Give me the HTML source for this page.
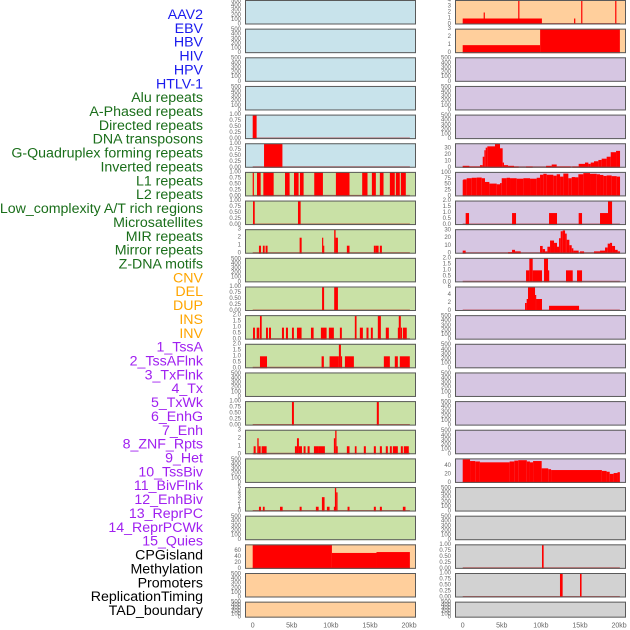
<!DOCTYPE html>
<html><head><meta charset="utf-8">
<style>
html,body{margin:0;padding:0;background:#fff;}
svg{display:block;font-family:"Liberation Sans",sans-serif;}
</style></head>
<body>
<svg id="chart" width="630" height="630" viewBox="0 0 630 630"></svg>
<script>
const trackLabels = ["AAV2","EBV","HBV","HIV","HPV","HTLV-1","Alu repeats","A-Phased repeats","Directed repeats","DNA transposons","G-Quadruplex forming repeats","Inverted repeats","L1 repeats","L2 repeats","Low_complexity A/T rich regions","Microsatellites","MIR repeats","Mirror repeats","Z-DNA motifs","CNV","DEL","DUP","INS","INV","1_TssA","2_TssAFlnk","3_TxFlnk","4_Tx","5_TxWk","6_EnhG","7_Enh","8_ZNF_Rpts","9_Het","10_TssBiv","11_BivFlnk","12_EnhBiv","13_ReprPC","14_ReprPCWk","15_Quies","CPGisland","Methylation","Promoters","ReplicationTiming","TAD_boundary"];
const labelGroups = ["virus","virus","virus","virus","virus","virus","rep","rep","rep","rep","rep","rep","rep","rep","rep","rep","rep","rep","rep","cnv","cnv","cnv","cnv","cnv","chrom","chrom","chrom","chrom","chrom","chrom","chrom","chrom","chrom","chrom","chrom","chrom","chrom","chrom","chrom","other","other","other","other","other"];
const panelGroups = ["virus","virus","virus","virus","virus","virus","rep","rep","rep","rep","rep","rep","rep","rep","rep","rep","rep","rep","rep","cnv","cnv","cnv","cnv","cnv","chrom","chrom","chrom","chrom","chrom","chrom","chrom","chrom","chrom","chrom","chrom","chrom","chrom","chrom","chrom","other","other","other","other","other"];
const E = null;
const yMax = [520,520,520,520,1,1,1,1,3,520,1,2,2,520,1,3,520,5,520,80,520,520, 4,3,520,520,520,37,103,2,31,2,6,520,520,520,520,520,56,520,520,1,1,520];
const tickSets = {
  e:[0,100,200,300,400,500], p1:[0,0.25,0.5,0.75,1], h2:[0,0.5,1,1.5,2], i3:[0,1,2,3], i4:[0,1,2,3,4], i5:[0,1,2,3,4,5],
  cnv:[0,20,40,60], tx:[0,10,20,30], wk:[0,25,50,75,100], het:[0,2,4,6], q:[0,20,40]
};
const tickKeys = ["e","e","e","e","p1","p1","p1","p1","i3","e","p1","h2","h2","e","p1","i3","e","i5","e","cnv","e","e","i4","i3","e","e","e","tx","wk","h2","tx","h2","het","e","e","e","e","e","q","e","e","p1","p1","e"];
const tickDecimals = {p1:2,h2:1};
const hpvSegs = [[0,0.5,1]];
const htlvSegs = [[1.45,3.8,1]];
const aluSegs = [[0,0.12,1],[0.55,1.02,1],[1.36,2.68,1],[4.13,4.72,1],[5.28,5.87,1],[6.04,6.51,1],[7.87,8.98,1],[10.64,12.38,1],[14.0,14.68,1],[15.24,15.75,1],[16.26,16.73,1],[17.54,18.17,1],[18.3,18.81,1],[18.94,19.58,1]];
const aphasedSegs = [[0.04,0.26,1],[5.79,6.13,1]];
const directedSegs = [[0.8,1.06,1],[1.3,1.53,1],[1.65,1.9,1],[6.0,6.26,2],[8.87,9.0,2],[9.0,9.13,1],[10.42,10.6,3],[10.6,10.9,2],[12.04,12.38,1],[15.49,15.75,1],[15.75,16.1,1],[16.26,16.52,1]];
const gquadSegs = [[8.87,9.13,1],[10.42,10.9,1]];
const invertedSegs = [[0.04,0.29,1],[0.51,0.85,1],[0.93,1.15,2],[1.7,1.95,1],[2.08,2.34,1],[3.74,4.0,1],[4.25,4.51,1],[5.02,5.27,1],[5.66,6.25,1],[7.45,7.79,1],[8.72,9.45,1],[9.74,10.38,1],[11.15,11.4,1],[13.06,13.28,2],[13.7,14.09,1],[14.55,14.81,1],[15.11,15.36,1],[16.0,16.39,2],[17.02,17.41,1],[18.56,18.68,1],[18.68,18.94,2],[18.94,19.07,1],[19.2,19.7,1]];
const l1Segs = [[0.93,1.83,1],[8.81,9.1,1],[9.83,11.02,1],[11.02,11.28,2],[11.28,11.4,1],[11.79,12.94,1],[16.77,17.54,1],[18.17,18.56,1],[18.81,20.09,1]];
const lowcompSegs = [[5.02,5.27,1],[15.87,16.13,1]];
const microSegs = [[0.12,0.38,1],[0.59,0.76,2],[0.76,1.02,1],[1.14,1.78,1],[5.4,5.66,1],[5.66,5.91,2],[5.91,6.3,1],[6.51,6.76,1],[7.02,7.28,1],[7.83,8.47,1],[8.47,9.23,1],[10.38,10.55,2],[10.55,10.72,3],[10.72,10.85,1],[12.04,12.38,1],[13.06,13.28,1],[14.21,14.47,1],[15.49,15.75,1],[16.26,16.52,1],[17.02,17.28,1],[17.54,17.79,1],[17.92,18.56,1],[18.94,19.2,1],[19.32,19.96,1]];
const mirrorSegs = [[0.8,1.06,1],[1.3,1.53,1],[3.49,3.83,1],[6.0,6.26,1],[8.08,8.43,1],[8.85,9.19,3],[9.49,9.83,1],[10.38,10.51,1],[10.51,10.68,5],[10.68,10.85,4],[12.13,12.38,1],[15.49,15.75,1],[16.26,16.52,1],[19.2,19.54,1]];
const cnvSegs = [[0,10.13,80],[10.13,15.83,53],[15.83,20.1,56]];
const insSegs = [[0,10.13,1],[2.68,2.8,2],[7.1,7.25,4],[14.24,14.4,1],[15.15,15.3,4],[19.5,19.65,4]];
const invSegs = [[0,9.9,1],[9.9,20.1,3]];
const txSegs = [[0,0.85,3],[0.85,2.21,2],[2.21,2.56,4],[2.56,2.77,17],[2.77,2.94,27],[2.94,3.15,31],[3.15,4.13,33],[4.13,4.77,37],[4.77,5.11,30],[5.11,5.28,8],[5.28,5.8,4],[5.8,6.56,3],[6.56,7.16,2],[8.1,8.95,2],[10.66,11.38,3],[11.38,12.02,5],[12.02,13.81,2],[14.02,14.83,2],[14.83,15.64,6],[15.64,16.07,8],[16.07,16.37,6],[16.37,16.79,8],[16.79,17.35,10],[17.35,17.77,12],[17.77,18.41,14],[18.41,18.93,17],[18.93,19.61,24],[19.61,20.12,26]];
const txwkSegs = [[0,0.08,70],[0.08,0.51,73],[0.51,1.15,78],[1.15,1.79,80],[1.79,2.43,81],[2.43,2.85,78],[2.85,3.41,62],[3.41,4.35,55],[4.35,4.77,52],[4.77,4.99,57],[4.99,5.62,78],[5.62,6.05,80],[6.05,6.9,78],[6.9,7.76,76],[7.76,8.61,78],[8.61,9.46,76],[9.46,9.89,80],[9.89,10.31,93],[10.31,10.74,97],[10.74,11.59,93],[11.59,12.02,89],[12.02,12.45,95],[12.45,12.87,85],[12.87,13.51,98],[13.51,13.94,78],[13.94,14.36,83],[14.36,14.79,82],[14.79,15.43,95],[15.43,16.28,100],[16.28,17.14,97],[17.14,17.56,95],[17.56,17.99,92],[17.99,18.41,88],[18.41,19.05,90],[19.05,19.69,87],[19.69,20.12,85]];
const enhgSegs = [[0.38,0.81,1],[6.31,6.82,1],[11.04,12.06,1],[14.83,15.26,1],[17.56,18.58,1],[18.58,19.1,2]];
const enhSegs = [[0,0.38,4],[5.8,6.31,2],[6.31,6.69,5],[6.69,7.42,3],[9.89,10.23,10],[10.23,10.53,6],[10.53,10.83,3],[10.83,11.17,9],[11.17,11.68,17],[11.68,12.06,14],[12.06,12.32,9],[12.32,12.53,20],[12.53,12.79,29],[12.79,13.09,30],[13.09,13.3,26],[13.3,13.64,18],[13.64,13.94,11],[13.94,14.15,7],[14.15,14.83,4],[15.0,15.52,3],[16.79,17.56,3],[17.56,18.2,4],[18.2,18.54,8],[18.54,18.84,13],[18.84,19.1,14],[19.1,19.48,10],[19.48,19.82,5],[19.82,20.12,3]];
const znfSegs = [[8.1,8.52,1],[8.52,8.95,2],[8.95,10.14,1],[10.4,10.91,2],[10.91,11.04,1],[13.21,14.07,1],[14.62,15.26,1]];
const hetSegs = [[7.97,8.18,2],[8.18,8.35,3],[8.35,9.25,6],[9.25,9.38,4],[9.38,10.14,3],[11.04,14.88,1.3]];
const quiesSegs = [[0,0.94,55],[0.94,1.6,51],[1.6,2.2,50],[2.2,6.0,48],[6.0,6.6,50],[6.6,7.1,52],[7.1,8.2,53],[8.2,8.6,50],[8.6,9.0,48],[9.0,10.1,51],[10.1,10.94,34],[10.94,11.3,32],[11.3,17.8,30],[17.8,18.4,28],[18.4,18.8,26],[18.8,19.3,21],[19.3,19.8,23],[19.8,20.1,25]];
const promSegs = [[10.14,10.35,1]];
const repSegs = [[12.44,12.78,1],[15.0,15.2,1]];
const trackSegs = [E,E,E,E,hpvSegs,htlvSegs,aluSegs,aphasedSegs,directedSegs,E,gquadSegs,invertedSegs,l1Segs,E,lowcompSegs,microSegs,E,mirrorSegs,E,cnvSegs,E,E,
  insSegs,invSegs,E,E,E,txSegs,txwkSegs,enhgSegs,enhSegs,znfSegs,hetSegs,E,E,E,E,E,quiesSegs,E,E,promSegs,repSegs,E];
const xTicks = [0,5,10,15,20];
const xTickLabels = ["0","5kb","10kb","15kb","20kb"];
const dataEnd = 20.1;

const svg = document.getElementById('chart');
const NS = 'http://www.w3.org/2000/svg';
function mk(tag, attrs, parent){const e=document.createElementNS(NS,tag);for(const k in attrs)e.setAttribute(k,attrs[k]);(parent||svg).appendChild(e);return e;}
const labelColors = {virus:'#1a1aee',rep:'#1a6e1a',cnv:'#ffa500',chrom:'#a020f0',other:'#000'};
const panelColors = {virus:'#c8e3eb',rep:'#c9e1a6',cnv:'#ffcf9c',chrom:'#d6c6e2',other:'#d2d2d2'};
const colX = [245,455];
const panelW = 171;
const x0off = 7.7, pxPerKb = 7.82;
function xScale(col,kb){return colX[col]+x0off+kb*pxPerKb;}
function rowTop(r){return r*28.65;}
function rowH(r){return r===21?16:24.5;}

trackLabels.forEach((t,i)=>{
  const el = mk('text',{x:203,y:15+i*13.86,'text-anchor':'end','dominant-baseline':'central','font-size':'14.2',fill:labelColors[labelGroups[i]]});
  el.textContent=t;
  
  
});

for(let ti=0;ti<44;ti++){
  const col = ti<22?0:1, r = ti%22;
  const top=rowTop(r), h=rowH(r), bottom=top+h;
  const g = mk('g',{});
  
  
  mk('rect',{x:colX[col],y:top,width:panelW,height:h,fill:panelColors[panelGroups[ti]]},g);
  const ym = yMax[ti];
  const yS = v => bottom - v/ym*(h-0.5);
  const segs = trackSegs[ti];
  if(segs){
    const bl = mk('line',{x1:xScale(col,0),x2:xScale(col,dataEnd),y1:bottom-0.8,y2:bottom-0.8,stroke:'rgba(170,0,0,0.55)','stroke-width':1.5},g);
    
    
    segs.forEach(s=>{
      const x1=xScale(col,s[0]), x2=xScale(col,s[1]);
      const y=yS(Math.min(s[2],ym));
      const b = mk('rect',{x:x1,y:y,width:Math.max(1.2,x2-x1),height:bottom-y,fill:'#ff0000'},g);
      
      
    });
  }
  mk('rect',{x:colX[col]+0.5,y:top+0.5,width:panelW-1,height:h-1,fill:'none',stroke:'#5a5a5a','stroke-width':1},g);
  const key = tickKeys[ti];
  const dec = tickDecimals[key]||0;
  tickSets[key].forEach(v=>{
    const t = mk('text',{x:colX[col]-4,y:yS(v),'text-anchor':'end','dominant-baseline':'central','font-size':'6',fill:'#666'},g);
    t.textContent = v.toFixed(dec);
    
    
  });
}
[0,1].forEach(col=>{
  xTicks.forEach((k,i)=>{
    const t = mk('text',{x:xScale(col,k),y:626,'text-anchor':'middle','dominant-baseline':'central','font-size':'7',fill:'#666'});
    t.textContent = xTickLabels[i];
    
    
  });
});
</script>
</body></html>
